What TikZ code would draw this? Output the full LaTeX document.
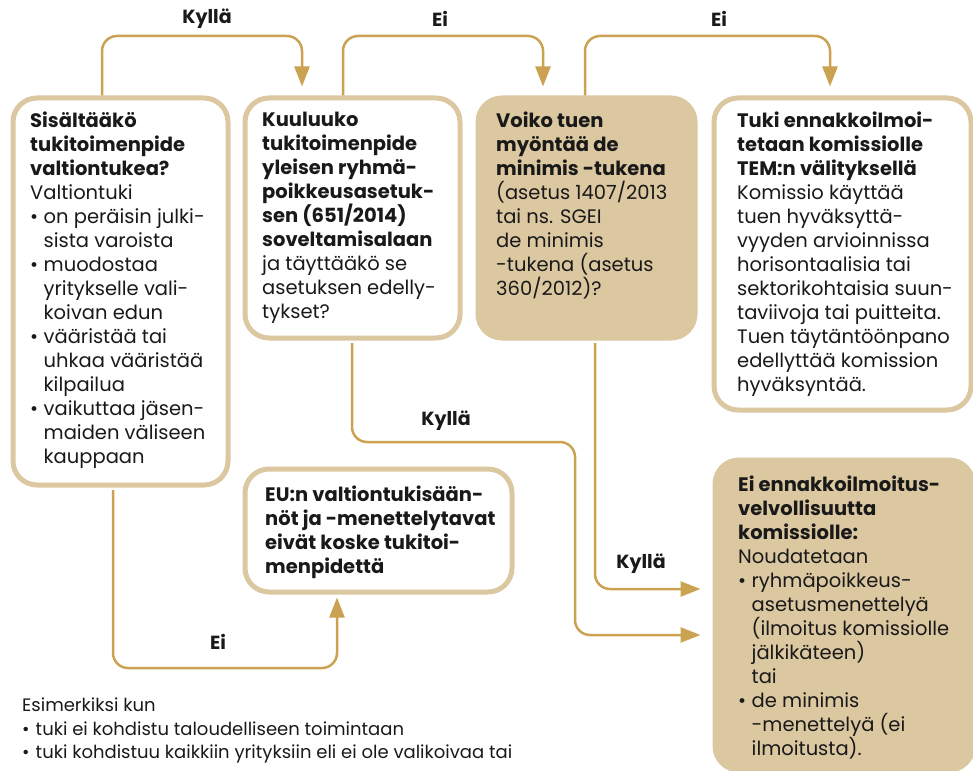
\documentclass[tikz,border=0pt]{standalone}
\usepackage{fontspec}
\setmainfont{Poppins}
\usetikzlibrary{arrows.meta,positioning}
\definecolor{boxtan}{RGB}{219,199,160}
\definecolor{linegold}{RGB}{203,162,82}
\newcommand{\itembul}{\makebox[13.5pt][l]{•}}
\newcommand{\itemind}{\hspace*{13.5pt}}

\begin{document}
\begin{tikzpicture}[x=1pt,y=-1pt,
    box/.style={draw=boxtan,line width=5pt,rounded corners=24pt,
                anchor=north west,inner sep=0pt},
    link/.style={draw=linegold,line width=2.5pt,rounded corners=15pt,
                 -{Triangle[width=15pt,length=20pt]}},
    txt/.style={align=left,inner sep=0pt,text=black!90,
                font=\fontsize{19.5}{24}\selectfont},
    lab/.style={inner sep=0pt,text=black!90,
                font=\bfseries\fontsize{19}{22}\selectfont}]
  \useasboundingbox (0,0) rectangle (973,770);

  % boxes
  \node[box,minimum width=215pt,minimum height=387pt] (q1) at (10.5,95.5) {};
  \node[box,minimum width=215pt,minimum height=240pt] (q2) at (242.5,95.5) {};
  \node[box,fill=boxtan,minimum width=217pt,minimum height=240pt] (q3) at (475.5,95.5) {};
  \node[box,minimum width=257pt,minimum height=312pt] (q4) at (711.5,95.5) {};
  \node[box,minimum width=267pt,minimum height=123pt] (q5) at (242.5,466.5) {};
  \node[box,fill=boxtan,minimum width=258pt,minimum height=310pt] (q6) at (712.5,457.5) {};

  % texts
  \node[txt,below right=16pt and 19.5pt of q1.north west] (t1)
    {\textbf{Sisältääkö}\\ \textbf{tukitoimenpide}\\ \textbf{valtiontukea?}\\
     Valtiontuki\\
     \itembul on peräisin julki-\\ \itemind sista varoista\\
     \itembul muodostaa\\ \itemind yritykselle vali-\\ \itemind koivan edun\\
     \itembul vääristää tai\\ \itemind uhkaa vääristää\\ \itemind kilpailua\\
     \itembul vaikuttaa jäsen-\\ \itemind maiden väliseen\\ \itemind kauppaan};
  \node[txt,below right=16pt and 19.5pt of q2.north west] (t2)
    {\textbf{Kuuluuko}\\ \textbf{tukitoimenpide}\\ \textbf{yleisen ryhmä-}\\
     \textbf{poikkeusasetuk-}\\ \textbf{sen (651/2014)}\\ \textbf{soveltamisalaan}\\
     ja täyttääkö se\\ asetuksen edelly-\\ tykset?};
  \node[txt,below right=16pt and 20.5pt of q3.north west] (t3)
    {\textbf{Voiko tuen}\\ \textbf{myöntää de}\\ \textbf{minimis -tukena}\\
     (asetus 1407/2013\\ tai ns. SGEI\\ de minimis\\ -tukena (asetus\\ 360/2012)?};
  \node[txt,below right=16pt and 25.5pt of q4.north west] (t4)
    {\textbf{Tuki ennakkoilmoi-}\\ \textbf{tetaan komissiolle}\\ \textbf{TEM:n välityksellä}\\
     Komissio käyttää\\ tuen hyväksyttä-\\ vyyden arvioinnissa\\
     horisontaalisia tai\\ sektorikohtaisia suun-\\ taviivoja tai puitteita.\\
     Tuen täytäntöönpano\\ edellyttää komission\\ hyväksyntää.};
  \node[txt,below right=19pt and 22.5pt of q5.north west] (t5)
    {\textbf{EU:n valtiontukisään-}\\ \textbf{nöt ja -menettelytavat}\\
     \textbf{eivät koske tukitoi-}\\ \textbf{menpidettä}};
  \node[txt,below right=18pt and 25.5pt of q6.north west] (t6)
    {\textbf{Ei ennakkoilmoitus-}\\ \textbf{velvollisuutta}\\ \textbf{komissiolle:}\\
     Noudatetaan\\
     \itembul ryhmäpoikkeus-\\ \itemind asetusmenettelyä\\
     \itemind (ilmoitus komissiolle\\ \itemind jälkikäteen)\\ \itemind tai\\
     \itembul de minimis\\ \itemind -menettelyä (ei\\ \itemind ilmoitusta).};
  \node[txt,anchor=north west,font=\fontsize{18}{23.5}\selectfont] (t7) at (22,698)
    {Esimerkiksi kun\\
     \itembul tuki ei kohdistu taloudelliseen toimintaan\\
     \itembul tuki kohdistuu kaikkiin yrityksiin eli ei ole valikoivaa tai};

  % connectors
  \coordinate (lane) at (0,36);
  \coordinate (k1) at (575,442);
  \draw[link,shorten >=9pt] ([xshift=91.5pt]q1.north west) -- ([xshift=91.5pt]q1.north west |- lane)
      -| ([xshift=59.5pt]q2.north west);
  \draw[link,shorten >=9pt] ([xshift=100.5pt]q2.north west) -- ([xshift=100.5pt]q2.north west |- lane)
      -| ([xshift=67.5pt]q3.north west);
  \draw[link,shorten >=9pt] ([xshift=109.5pt]q3.north west) -- ([xshift=109.5pt]q3.north west |- lane)
      -| ([xshift=118.5pt]q4.north west);
  \draw[link,shorten <=2.5pt,shorten >=12pt] ([xshift=109.5pt]q2.south west) |- (k1)
      |- ([yshift=-177.5pt]q6.north west);
  \draw[link,shorten <=2.5pt,shorten >=12pt] ([xshift=119.5pt]q3.south west)
      |- ([yshift=-131.5pt]q6.north west);
  \draw[link,shorten <=2.5pt,shorten >=3pt] ([xshift=102.5pt]q1.south west) -- ++(0,180.5)
      -| ([xshift=94.5pt]q5.south west);

  % labels
  \node[lab] (l1) at (207,19) {Kyllä};
  \node[lab] (l2) at (440,19) {Ei};
  \node[lab] (l3) at (719,19) {Ei};
  \node[lab] (l4) at (446,421) {Kyllä};
  \node[lab] (l5) at (641,564) {Kyllä};
  \node[lab] (l6) at (218,642) {Ei};
\end{tikzpicture}
\end{document}
